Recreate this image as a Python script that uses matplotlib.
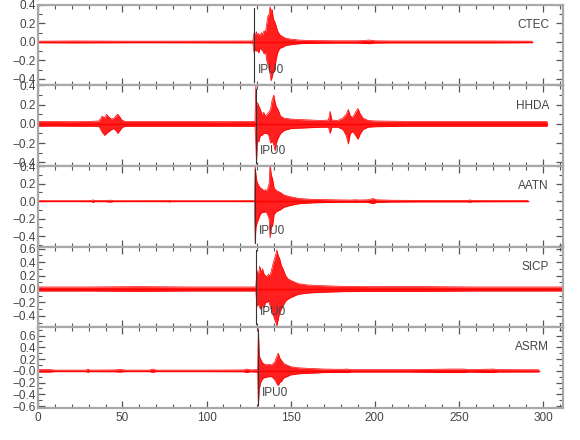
"""Five-station seismogram section with IPU0 picks."""

import matplotlib
matplotlib.use("Agg")
import matplotlib.pyplot as plt
import numpy as np
from matplotlib.ticker import FixedLocator, FixedFormatter, MultipleLocator

plt.rcParams["font.family"] = ["Liberation Sans", "DejaVu Sans"]

stations = ["CTEC", "HHDA", "AATN", "SICP", "ASRM"]
pick_times = [128.3, 129.5, 128.9, 129.7, 130.8]
y_limits = [(-0.47, 0.40), (-0.44, 0.40), (-0.52, 0.40), (-0.57, 0.63), (-0.63, 0.74)]
y_ticks = [
    [-0.4, -0.2, 0.0, 0.2, 0.4],
    [-0.4, -0.2, 0.0, 0.2, 0.4],
    [-0.4, -0.2, 0.0, 0.2, 0.4],
    [-0.4, -0.2, 0.0, 0.2, 0.4, 0.6],
    [-0.6, -0.4, -0.2, 0.0, 0.2, 0.4, 0.6],
]
y_ticklabels = [
    ["\u22120.4", "\u22120.2", "0.0", "0.2", "0.4"],
    ["\u22120.4", "\u22120.2", "0.0", "0.2", "0.4"],
    ["\u22120.4", "\u22120.2", "0.0", "0.2", "0.4"],
    ["\u22120.4", "\u22120.2", "0.0", "0.2", "0.4", "0.6"],
    ["\u22120.6", "\u22120.4", "\u22120.2", "\u22120.0", "0.2", "0.4", "0.6"],
]
x_ticks = [0, 50, 100, 150, 200, 250, 300]

# envelope: (time s, upper, lower)
ctec = [
    (0, .008, -.008), (20, .01, -.01), (60, .008, -.008), (100, .009, -.009),
    (127.5, .01, -.01), (128.3, .10, -.12), (128.9, .06, -.08), (129.6, .11, -.10),
    (130.3, .07, -.09), (131.0, .09, -.12), (131.8, .06, -.07), (132.6, .10, -.08),
    (133.4, .08, -.10), (134.2, .12, -.13), (135.0, .10, -.10), (135.8, .20, -.20),
    (136.5, .28, -.25), (137.2, .30, -.30), (137.8, .38, -.35), (138.4, .33, -.42),
    (139.0, .35, -.38), (139.7, .25, -.32), (140.5, .22, -.30), (141.3, .18, -.20),
    (142.2, .12, -.12), (143.5, .08, -.07), (145, .06, -.06), (147, .04, -.04),
    (150, .03, -.03), (155, .02, -.02), (162, .015, -.015), (175, .012, -.012),
    (190, .012, -.012), (197, .02, -.02), (200, .012, -.012), (210, .01, -.01),
    (240, .01, -.01), (270, .01, -.01), (293.6, .008, -.008),
]
hhda = [
    (0, .025, -.025), (10, .025, -.023), (20, .023, -.025), (30, .025, -.025),
    (36, .03, -.025), (38, .08, -.09), (39.5, .06, -.12), (40.6, .10, -.10),
    (42, .07, -.08), (43.5, .05, -.06), (45, .06, -.05), (46.5, .09, -.08),
    (47.3, .10, -.10), (48.5, .07, -.07), (50, .035, -.035), (52, .025, -.025),
    (70, .025, -.025), (90, .025, -.025), (110, .023, -.025), (125, .025, -.025),
    (128.8, .025, -.025), (129.3, .40, -.20), (129.7, .20, -.42), (130.3, .22, -.15),
    (131, .19, -.19), (132, .15, -.12), (133, .10, -.12), (134, .12, -.10),
    (135, .08, -.10), (136, .10, -.10), (137, .12, -.12), (138, .15, -.20),
    (139, .25, -.18), (140, .30, -.22), (140.8, .22, -.28), (141.5, .18, -.20),
    (142.5, .15, -.15), (144, .08, -.10), (146, .06, -.07), (150, .05, -.05),
    (155, .045, -.045), (162, .04, -.04), (168, .035, -.035), (172.5, .04, -.035),
    (173.5, .13, -.10), (174.5, .04, -.035), (178, .035, -.035), (181, .06, -.06),
    (183, .10, -.12), (184.3, .15, -.21), (185.5, .08, -.10), (187, .07, -.08),
    (188.5, .12, -.12), (190, .16, -.16), (191.5, .10, -.10), (193, .06, -.06),
    (196, .035, -.035), (200, .03, -.03), (220, .025, -.025), (250, .025, -.025),
    (280, .025, -.025), (302.5, .025, -.025),
]
aatn = [
    (0, .004, -.004), (25, .004, -.004), (31.5, .005, -.005), (32.5, .015, -.015),
    (33.5, .005, -.005), (40, .005, -.005), (41.5, .01, -.01), (43.5, .01, -.01),
    (45, .004, -.004), (77, .005, -.005), (78, .009, -.009), (79, .004, -.004),
    (110, .004, -.004), (128.5, .005, -.005), (128.9, .40, -.48), (129.4, .30, -.30),
    (130, .22, -.25), (131, .18, -.20), (132, .15, -.15), (133, .14, -.13),
    (134, .12, -.13), (135, .13, -.12), (136, .12, -.14), (137.2, .20, -.20),
    (137.8, .42, -.42), (138.5, .30, -.30), (139.3, .25, -.28), (140.2, .15, -.15),
    (141.5, .12, -.12), (143.8, .10, -.10), (146, .07, -.07), (149.7, .05, -.05),
    (155, .03, -.03), (163, .02, -.02), (175, .015, -.015), (186, .012, -.012),
    (188, .015, -.015), (191, .012, -.012), (196, .015, -.015), (199, .03, -.03),
    (201, .015, -.015), (210, .01, -.01), (230, .008, -.008), (255, .008, -.008),
    (256.8, .013, -.013), (258, .007, -.007), (291, .006, -.006),
]
sicp = [
    (0, .03, -.03), (30, .03, -.03), (60, .035, -.035), (90, .03, -.03),
    (120, .03, -.03), (129.3, .03, -.03), (129.9, .28, -.26), (130.8, .20, -.22),
    (131.6, .34, -.28), (132.5, .25, -.31), (133.3, .30, -.22), (134.2, .22, -.28),
    (135, .20, -.20), (135.8, .18, -.20), (136.8, .22, -.18), (137.8, .20, -.25),
    (138.8, .30, -.35), (139.8, .40, -.40), (140.4, .45, -.45), (141.2, .52, -.50),
    (141.8, .58, -.55), (142.6, .50, -.45), (143.5, .45, -.35), (144.5, .35, -.30),
    (145.5, .30, -.25), (147, .20, -.18), (148.5, .15, -.15), (150.7, .12, -.12),
    (154.5, .08, -.08), (160, .06, -.06), (168, .05, -.05), (180, .04, -.04),
    (200, .035, -.035), (230, .035, -.035), (260, .03, -.03), (290, .03, -.03),
    (312, .03, -.03),
]
asrm = [
    (0, .015, -.015), (1, .02, -.02), (6.8, .02, -.02), (10, .012, -.012),
    (28.5, .012, -.012), (29.5, .03, -.025), (30.5, .012, -.012), (45, .015, -.015),
    (48.5, .022, -.02), (52, .012, -.012), (66, .012, -.012), (68, .03, -.025),
    (70, .012, -.012), (100, .012, -.012), (122, .015, -.015), (124, .03, -.03),
    (126, .015, -.015), (130.4, .02, -.02), (130.8, .72, -.60), (131.4, .25, -.30),
    (132.2, .20, -.20), (133, .15, -.15), (134, .12, -.12), (135.5, .10, -.11),
    (137, .11, -.10), (138.8, .10, -.10), (140.5, .15, -.15), (141.8, .25, -.22),
    (142.7, .30, -.25), (143.5, .22, -.20), (144.5, .18, -.18), (146, .12, -.12),
    (147.7, .10, -.10), (150, .07, -.07), (155, .05, -.05), (162, .04, -.04),
    (170, .03, -.03), (180, .025, -.025), (183.4, .03, -.03), (186, .02, -.02),
    (220, .02, -.02), (245, .03, -.03), (253, .03, -.03), (256, .02, -.02),
    (270.5, .03, -.03), (273, .02, -.02), (297.5, .018, -.018),
]
traces = [ctec, hhda, aatn, sicp, asrm]

SPINE = "#a8a8a8"
TXT = "#444444"

fig, axes = plt.subplots(5, 1, figsize=(5.8, 4.4), dpi=100, sharex=True)
fig.subplots_adjust(left=0.066, right=0.971, top=0.989, bottom=0.073, hspace=0)

for i, ax in enumerate(axes):
    t, up, lo = np.array(traces[i]).T
    ax.fill_between(t, lo, up, color="red", alpha=0.88, lw=0)
    ax.plot(t, up, color="red", lw=0.5)
    ax.plot(t, lo, color="red", lw=0.5)
    ax.plot(t, np.zeros_like(t), color="red", lw=1.0)

    ax.axvline(pick_times[i], ymin=0.04, ymax=0.96, color="#333333", lw=0.8)
    ax.annotate("IPU0", xy=(pick_times[i], 0.19), xycoords=("data", "axes fraction"),
                xytext=(2.5, 0), textcoords="offset points", va="center", ha="left",
                fontsize=8.5, color=TXT)
    ax.text(0.973, 0.75, stations[i], transform=ax.transAxes, ha="right", va="center",
            fontsize=8.5, color=TXT)

    ax.set_xlim(0, 312)
    ax.set_ylim(*y_limits[i])
    ax.yaxis.set_major_locator(FixedLocator(y_ticks[i]))
    ax.yaxis.set_major_formatter(FixedFormatter(y_ticklabels[i]))
    ax.yaxis.set_minor_locator(MultipleLocator(0.1))
    ax.xaxis.set_major_locator(FixedLocator(x_ticks))
    ax.xaxis.set_minor_locator(MultipleLocator(10))
    ax.tick_params(which="both", direction="in", top=True, right=True,
                   color="#555555", labelcolor=TXT, labelsize=8.5, pad=2)
    ax.tick_params(which="major", length=5, width=0.9)
    ax.tick_params(which="minor", length=3, width=0.8)
    for s in ax.spines.values():
        s.set_color(SPINE)
        s.set_linewidth(1.6)

axes[-1].tick_params(axis="x", pad=3)

plt.savefig("out.png", dpi=100)
plt.close()
